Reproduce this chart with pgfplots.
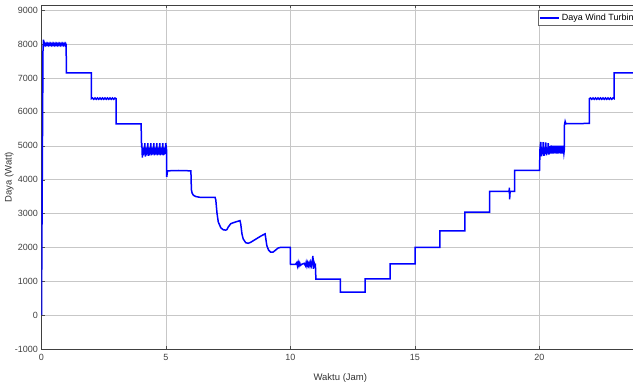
\documentclass[border=0pt]{standalone}
\usepackage{pgfplots}
\pgfplotsset{compat=1.18}
\usepackage{fontspec}
\setmainfont{Liberation Sans}
\definecolor{mblue}{RGB}{0,0,255}
\begin{document}
\begin{tikzpicture}
\begin{scope}
\clip (-41.5pt,-35pt) rectangle (591.5pt,349pt);
\begin{axis}[
  scale only axis,
  width=597.6pt, height=343.8pt,
  xmin=0, xmax=24, ymin=-1000, ymax=9150,
  xtick={0,5,15}, extra x ticks={10,20},
  extra x tick style={grid style={black!45, line width=0.5pt}},
  ytick={-1000,0,1000,2000,3000,4000,5000,6000,7000,8000,9000},
  scaled y ticks=false,
  yticklabel style={/pgf/number format/1000 sep={}},
  /pgf/number format/assume math mode=true,
  grid=major,
  major grid style={black!22, line width=0.5pt},
  tick align=inside, major tick length=3pt,
  tick style={black!70},
  axis line style={black!75},
  ticklabel style={font=\fontsize{9}{10}\selectfont, text=black!75},
  xticklabel style={yshift=-2pt},
  xlabel={Waktu (Jam)}, ylabel={Daya (Watt)},
  label style={font=\fontsize{9.5}{11}\selectfont, text=black!80},
  x label style={at={(axis description cs:0.5,0)}, anchor=center, yshift=-29pt},
  y label style={at={(axis description cs:-0.054,0.5)}, anchor=center, rotate=0},
  legend style={at={(0.997,0.985)}, anchor=north east, font=\fontsize{9}{10}\selectfont,
    draw=black!60, inner sep=1.5pt, row sep=0pt, cells={anchor=west}},
  legend cell align=left,
  legend image code/.code={\draw[mblue, line width=1.3pt] (0pt,0pt) -- (19pt,0pt);},
]
\addplot[mblue, line width=1.5pt] coordinates {
(0,0) (0.03,4000) (0.06,7800) (0.08,8130) (0.10,7960)
(0.13,8020) (0.16,7970) (0.19,8020) (0.22,7970) (0.25,8020) (0.28,7970) (0.31,8020) (0.34,7970) (0.37,8020) (0.40,7970)
(0.43,8020) (0.46,7970) (0.49,8020) (0.52,7970) (0.55,8020) (0.58,7970) (0.61,8020) (0.64,7970) (0.67,8020) (0.70,7970)
(0.73,8020) (0.76,7970) (0.79,8020) (0.82,7970) (0.85,8020) (0.88,7970) (0.91,8020) (0.94,7970) (0.97,8020) (0.99,7990)
(1.0,7150) (2.0,7150)
(2.0,6390) (2.05,6410) (2.1,6370) (2.15,6410) (2.2,6370) (2.25,6410) (2.3,6370) (2.35,6410) (2.4,6370) (2.45,6410)
(2.5,6370) (2.55,6410) (2.6,6370) (2.65,6410) (2.7,6370) (2.75,6410) (2.8,6370) (2.85,6410) (2.9,6370) (2.95,6410) (3.0,6390)
(3.0,5650) (4.0,5650)
(4.02,4950)
(4.03,5080) (4.05,4650) (4.07,4950) (4.09,4720) (4.11,4930) (4.13,4760)
(4.15,5080) (4.17,4680) (4.19,4950) (4.21,4720) (4.23,4930) (4.25,4760)
(4.27,5080) (4.29,4700) (4.31,4950) (4.33,4720) (4.35,4930) (4.37,4760)
(4.39,5080) (4.41,4720) (4.43,4950) (4.45,4740) (4.47,4930) (4.49,4760)
(4.51,5080) (4.53,4720) (4.55,4950) (4.57,4740) (4.59,4930) (4.61,4760)
(4.63,5080) (4.65,4720) (4.67,4950) (4.69,4740) (4.71,4930) (4.73,4760)
(4.75,5080) (4.77,4720) (4.79,4950) (4.81,4740) (4.83,4930) (4.85,4760)
(4.87,5080) (4.89,4720) (4.91,4950) (4.93,4740) (4.95,4930) (4.97,4760)
(4.99,5080) (5.02,4900) (5.03,4080) (5.06,4260)
(5.5,4270) (6.0,4260)
(6.02,3700) (6.05,3600) (6.1,3540) (6.2,3500) (6.35,3480) (6.97,3480)
(7.0,3400) (7.05,3000) (7.1,2750) (7.2,2580) (7.3,2520) (7.4,2510) (7.45,2530) (7.5,2600) (7.6,2700) (7.75,2740) (7.97,2790)
(8.0,2700) (8.05,2400) (8.1,2250) (8.2,2140) (8.3,2120) (8.4,2150) (8.6,2240) (8.8,2330) (8.98,2400)
(9.0,2300) (9.05,2050) (9.12,1920) (9.2,1860) (9.3,1860) (9.4,1920) (9.5,1980) (9.6,2000) (9.99,2000)
(10.0,1500) (10.2,1500) (10.25,1550) (10.28,1450) (10.31,1560) (10.34,1460) (10.37,1540) (10.40,1470)
(10.45,1500) (10.55,1530) (10.6,1460) (10.63,1560) (10.66,1450) (10.69,1550) (10.72,1460) (10.75,1540)
(10.78,1450) (10.81,1560) (10.84,1460) (10.87,1560) (10.90,1750) (10.92,1370) (10.95,1550) (10.98,1480)
(11.0,1490) (11.02,1060) (12.0,1060)
(12.0,680) (13.0,680)
(13.0,1070) (14.0,1070)
(14.0,1510) (15.0,1510)
(15.0,2000) (16.0,2000)
(16.0,2490) (17.0,2490)
(17.0,3040) (18.0,3040)
(18.0,3650) (18.78,3650) (18.79,3760) (18.80,3420) (18.82,3650) (19.0,3650)
(19.0,4270) (20.0,4270)
(20.02,4900) (20.05,5110) (20.08,4690) (20.10,4950) (20.13,4750)
(20.15,5110) (20.18,4700) (20.20,4950) (20.23,4760)
(20.25,5100) (20.28,4720) (20.30,4950) (20.33,4770)
(20.35,5080) (20.38,4740) (20.41,4990) (20.44,4770)
(20.47,5010) (20.50,4770) (20.53,5000) (20.56,4770) (20.59,5000) (20.62,4780) (20.65,5000) (20.68,4770)
(20.71,5000) (20.74,4770) (20.77,5000) (20.80,4780) (20.83,5000) (20.86,4770) (20.89,5000) (20.92,4770)
(20.95,5000) (20.98,4780) (21.0,4900)
(21.0,5600) (21.03,5720) (21.06,5650) (22.0,5660)
(22.0,6390) (22.05,6410) (22.1,6370) (22.15,6410) (22.2,6370) (22.25,6410) (22.3,6370) (22.35,6410) (22.4,6370) (22.45,6410)
(22.5,6370) (22.55,6410) (22.6,6370) (22.65,6410) (22.7,6370) (22.75,6410) (22.8,6370) (22.85,6410) (22.9,6370) (22.95,6410) (23.0,6390)
(23.0,7150) (24.0,7150)
};
\addlegendentry{Daya Wind Turbin}
\end{axis}
\end{scope}
\pgfresetboundingbox
\path[use as bounding box] (-41.5pt,-35pt) rectangle (591.5pt,349pt);
\end{tikzpicture}
\end{document}
